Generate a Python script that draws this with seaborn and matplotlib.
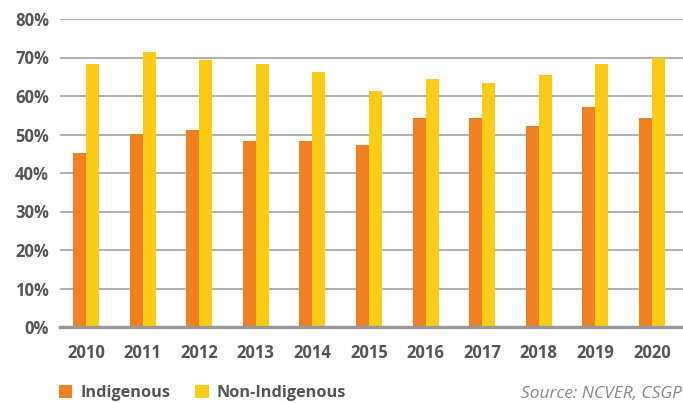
import matplotlib
matplotlib.use("Agg")
import matplotlib.pyplot as plt
import seaborn as sns
import pandas as pd
from matplotlib.ticker import PercentFormatter

years = ['2010', '2011', '2012', '2013', '2014', '2015', '2016', '2017', '2018', '2019', '2020']
indigenous = [45.2, 50.1, 51.2, 48.3, 48.3, 47.3, 54.3, 54.3, 52.2, 57.1, 54.3]
non_indigenous = [68.3, 71.4, 69.4, 68.3, 66.2, 61.3, 64.4, 63.4, 65.5, 68.3, 70.0]

df = pd.DataFrame({
    'Year': years * 2,
    'Value': indigenous + non_indigenous,
    'Group': ['Indigenous'] * len(years) + ['Non-Indigenous'] * len(years),
})

sns.set_style('white')
plt.rcParams['font.family'] = ['Open Sans', 'DejaVu Sans']

fig = plt.figure(figsize=(6.83, 4.03), dpi=100)
ax = fig.add_axes([60 / 683, 1 - 327 / 403, 1 - 60 / 683, (327 - 19) / 403])

sns.barplot(data=df, x='Year', y='Value', hue='Group',
            palette=['#F08022', '#FDCC16'], width=0.46, gap=0,
            saturation=1, linewidth=0, ax=ax, legend=True)

ax.set_ylim(0, 80)
ax.set_xlim(-0.46, 10.55)
ax.set_yticks(range(0, 81, 10))
ax.yaxis.set_major_formatter(PercentFormatter(decimals=0))
ax.grid(axis='y', color='#b0b0b0', linewidth=1.4)
ax.set_axisbelow(True)
for s in ['top', 'right', 'left']:
    ax.spines[s].set_visible(False)
ax.spines['bottom'].set_color('#999999')
ax.spines['bottom'].set_linewidth(2.4)
ax.tick_params(axis='both', length=0, labelsize=12, labelcolor='#555555')
ax.tick_params(axis='x', pad=12)
ax.tick_params(axis='y', pad=8)
for lab in ax.get_xticklabels() + ax.get_yticklabels():
    lab.set_fontweight('bold')
ax.set_xlabel('')
ax.set_ylabel('')

handles, labels = ax.get_legend_handles_labels()
ax.get_legend().remove()
leg = fig.legend(handles, labels, loc='center left', bbox_to_anchor=(44 / 683, 1 - 393 / 403),
                 ncol=2, frameon=False, handlelength=0.85, handleheight=0.85,
                 handletextpad=0.5, columnspacing=1.5, fontsize=11.7)
for t in leg.get_texts():
    t.set_color('#555555')
    t.set_fontweight('bold')

fig.text(521 / 683, 1 - 394 / 403, 'Source: NCVER, CSGP', ha='left', va='center',
         fontsize=12.5, style='italic', color='#888888')

fig.savefig('out.png', dpi=100)
